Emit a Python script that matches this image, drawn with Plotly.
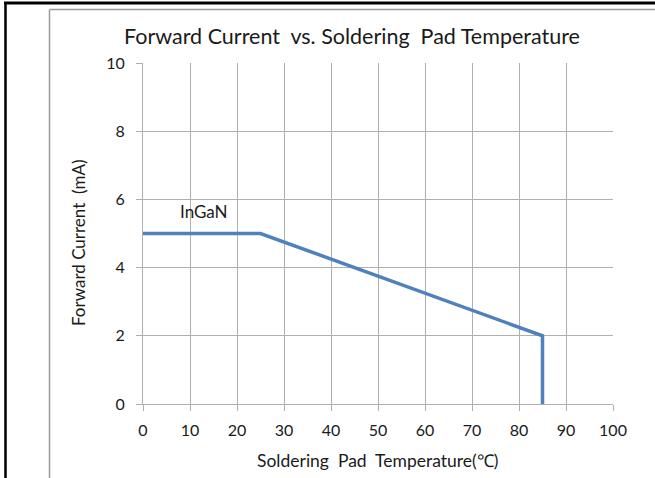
import plotly.graph_objects as go

temperature = [0, 25, 85, 85]
current = [5, 5, 2, 0]
x_ticks = [0, 10, 20, 30, 40, 50, 60, 70, 80, 90, 100]
y_ticks = [0, 2, 4, 6, 8, 10]

W, H = 655, 478
L, R, T, B = 143, 613, 63, 404

def px(x):
    return (x - L) / (R - L)

def py(y):
    return (B - y) / (B - T)

FONT = "Lato"
TXT = "#1a1a1a"
fig = go.Figure()
fig.add_trace(go.Scatter(x=temperature, y=current, mode="lines",
                         line=dict(color="#4F81BD", width=3.5), showlegend=False,
                         hoverinfo="skip"))

grid = "#B0B0B0"
fig.update_layout(
    width=W, height=H,
    margin=dict(l=L, r=W - R, t=T, b=H - B),
    paper_bgcolor="white", plot_bgcolor="white",
    xaxis=dict(range=[0, 100], tickvals=x_ticks, showgrid=True, gridcolor=grid, gridwidth=1,
               showline=True, linecolor=grid, linewidth=1, ticks="outside", ticklen=6,
               tickcolor=grid, zeroline=False, mirror=False,
               tickfont=dict(family=FONT, size=16, color=TXT), ticklabelstandoff=6),
    yaxis=dict(range=[0, 10], tickvals=y_ticks, showgrid=True, gridcolor=grid, gridwidth=1,
               showline=True, linecolor=grid, linewidth=1, ticks="outside", ticklen=6,
               tickcolor=grid, zeroline=False,
               tickfont=dict(family=FONT, size=16, color=TXT), ticklabelstandoff=8),
    font=dict(family=FONT, color=TXT),
)

annotations = [
    dict(text="Forward Current\u00a0 vs. Soldering\u00a0 Pad Temperature", x=px(352), y=py(36),
         xref="paper", yref="paper", showarrow=False, font=dict(family=FONT, size=21.5, color=TXT),
         xanchor="center", yanchor="middle"),
    dict(text="Forward Current\u00a0 (mA)", x=px(78), y=py(243), xref="paper", yref="paper",
         showarrow=False, textangle=-90, font=dict(family=FONT, size=17, color=TXT),
         xanchor="center", yanchor="middle"),
    dict(text="Soldering\u00a0 Pad\u00a0 Temperature(\u2103)", x=px(377), y=py(460), xref="paper",
         yref="paper", showarrow=False, font=dict(family=FONT, size=17.5, color=TXT),
         xanchor="center", yanchor="middle"),
    dict(text="InGaN", x=13.0, y=5.65, xref="x", yref="y", showarrow=False,
         font=dict(family=FONT, size=17, color=TXT), xanchor="center", yanchor="middle"),
]
fig.update_layout(annotations=annotations)

shapes = [
    # gray inner frame
    dict(type="line", xref="paper", yref="paper", x0=px(49.5), x1=px(700), y0=py(9.5), y1=py(9.5),
         line=dict(color="#999999", width=1.5)),
    dict(type="line", xref="paper", yref="paper", x0=px(49.5), x1=px(49.5), y0=py(9.5), y1=py(500),
         line=dict(color="#999999", width=1.5)),
    # black outer frame
    dict(type="line", xref="paper", yref="paper", x0=px(4), x1=px(700), y0=py(3), y1=py(3),
         line=dict(color="black", width=3)),
    dict(type="line", xref="paper", yref="paper", x0=px(5.5), x1=px(5.5), y0=py(2), y1=py(500),
         line=dict(color="black", width=2.5)),
]
fig.update_layout(shapes=shapes)

fig.write_html("out.html", config={"displayModeBar": False},
               post_script="document.body.style.margin='0';document.body.style.overflow='hidden';")
